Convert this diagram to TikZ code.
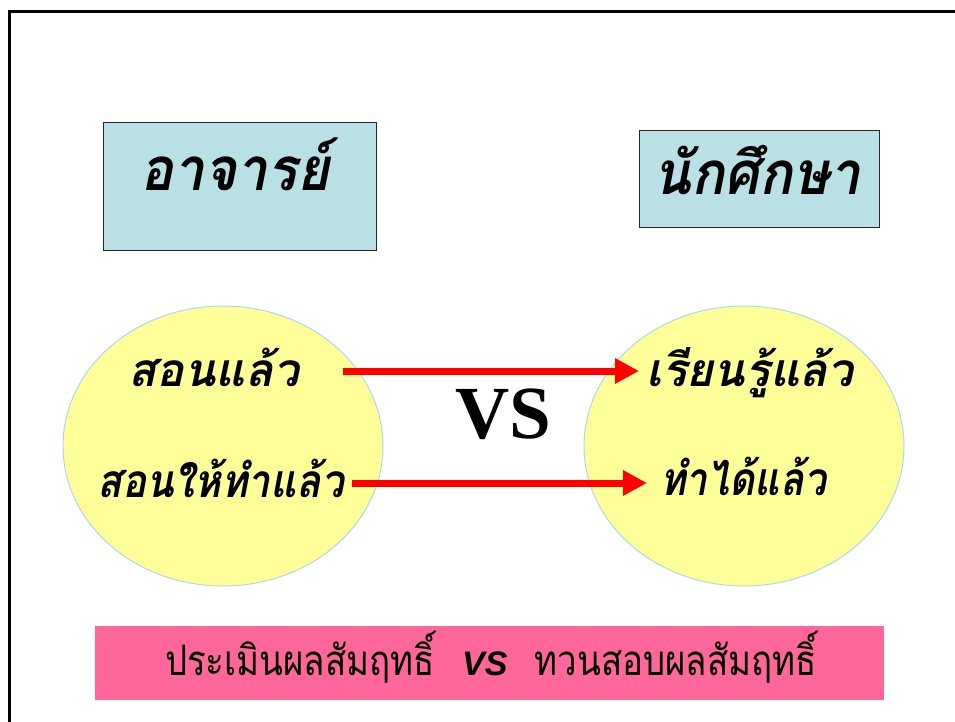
\documentclass[tikz,border=0pt]{standalone}
\usepackage{fontspec}
\newfontfamily\thaifont[Script=Thai]{Loma}
\newfontfamily\thaihead[Script=Thai,FakeStretch=0.92]{Loma}
\newfontfamily\thainarrow[Script=Thai,FakeStretch=0.83]{Loma}
\newfontfamily\serifvs{Liberation Serif}
\newfontfamily\sansvs{Liberation Sans}
\definecolor{boxblue}{RGB}{185,224,228}
\definecolor{ellyellow}{RGB}{255,255,153}
\definecolor{ellborder}{RGB}{176,216,228}
\definecolor{pinkbar}{RGB}{255,102,153}
\definecolor{boxborder}{RGB}{40,40,40}
\usetikzlibrary{arrows.meta}
\tikzset{
  headbox/.style={draw=boxborder, line width=1pt, fill=boxblue},
  bubble/.style={draw=ellborder, line width=1pt, fill=ellyellow},
  headtext/.style={anchor=base, inner sep=0pt, font=\thaihead\bfseries\itshape\fontsize{60}{66}\selectfont},
  bubbletext/.style={anchor=base, inner sep=0pt, font=\thaifont\bfseries\itshape\fontsize{46}{52}\selectfont},
  redarrow/.style={draw=red, line width=7pt, -{Triangle[length=24pt,width=24pt]}},
}
\begin{document}
\begin{tikzpicture}[x=1pt,y=-1pt]
\useasboundingbox (0,0) rectangle (955,722);
\clip (0,0) rectangle (955,722);
\fill[white] (0,0) rectangle (955,722);
\draw[line width=3pt] (9,740) -- (9,12) -- (970,12);
% header boxes
\draw[headbox] (103.5,122.5) rectangle (376,250.5);
\draw[headbox] (639.5,131) rectangle (879,227);
\node[headtext] (teacher) at (235,190) {อาจารย์};
\node[headtext] (student) at (757,194) {นักศึกษา};
% ellipses
\draw[bubble] (223,446) ellipse [x radius=160, y radius=140];
\draw[bubble] (744,446) ellipse [x radius=160, y radius=140];
\node[bubbletext] (t1) at (214,386) {สอนแล้ว};
\node[bubbletext] (t2) at (221,497) {\scalebox{0.88}[1]{สอนให้ทำแล้ว}};
\node[bubbletext] (s1) at (750,386) {เรียนรู้แล้ว};
\node[bubbletext] (s2) at (743,495) {\scalebox{0.85}[1]{ทำได้แล้ว}};
% arrows
\coordinate (a1s) at (343,371);
\coordinate (a1e) at (639,371);
\coordinate (a2s) at (352,483);
\coordinate (a2e) at (647,483);
\draw[redarrow] (a1s) -- (a1e);
\draw[redarrow] (a2s) -- (a2e);
\node[anchor=base, inner sep=0pt, font=\serifvs\bfseries\fontsize{75}{80}\selectfont] (vs) at (503,438) {VS};
% bottom bar
\fill[pinkbar] (95,626) rectangle (884,700);
\node[anchor=base, inner sep=0pt] (bottom) at (491,675) {\thainarrow\fontsize{42}{48}\selectfont ประเมินผลสัมฤทธิ์\hspace{0.65em}{\sansvs\bfseries\itshape\fontsize{34}{40}\selectfont VS}\hspace{0.65em}ทวนสอบผลสัมฤทธิ์};
\end{tikzpicture}
\end{document}
